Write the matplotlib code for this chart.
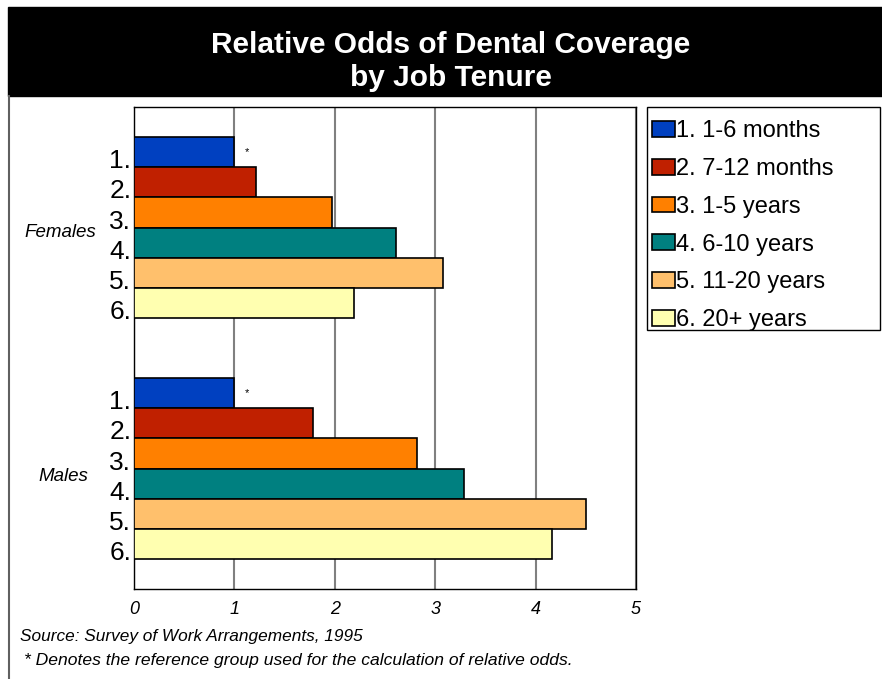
import matplotlib.pyplot as plt
import matplotlib.transforms as mtransforms
from matplotlib.patches import Rectangle
from matplotlib.lines import Line2D

plt.rcParams['font.family'] = ['Liberation Sans', 'DejaVu Sans']

# datos
grupos = ["Females", "Males"]
categorias = ["1. 1-6 months", "2. 7-12 months", "3. 1-5 years",
              "4. 6-10 years", "5. 11-20 years", "6. 20+ years"]
etiquetas_y = ["1.", "2.", "3.", "4.", "5.", "6."]
mujeres = [1.00, 1.22, 1.97, 2.61, 3.08, 2.19]
hombres = [1.00, 1.78, 2.82, 3.29, 4.50, 4.16]
colores = ["#0040C0", "#C02000", "#FF8000", "#008080", "#FFC06C", "#FFFFB0"]
xticks = [0, 1, 2, 3, 4, 5]

W, H = 882, 679
fig = plt.figure(figsize=(W / 100, H / 100), dpi=100)

# banda negra del titulo y borde izquierdo
fig.patches.append(Rectangle((8 / W, 1 - 96 / H), 874 / W, 89 / H,
                             transform=fig.transFigure, color="black", zorder=0))
fig.lines.append(Line2D([9 / W, 9 / W], [0, 1 - 96 / H], transform=fig.transFigure,
                        color="#606060", lw=1.5))
fig.text(451 / W, 1 - 45 / H, "Relative Odds of Dental Coverage", color="white",
         fontsize=21.5, fontweight="bold", ha="center", va="center")
fig.text(451 / W, 1 - 78 / H, "by Job Tenure", color="white",
         fontsize=21.5, fontweight="bold", ha="center", va="center")

ax = fig.add_axes([134 / W, 1 - 589 / H, (636 - 134) / W, (589 - 107) / H])

offsets = [1, 9]  # posicion de inicio de cada grupo
yt, ytl = [], []
for g, vals, off in zip(grupos, [mujeres, hombres], offsets):
    for i, v in enumerate(vals):
        y = off + i + 0.5
        ax.barh(y, v, height=1.0, color=colores[i], edgecolor="black",
                linewidth=1.2, zorder=3,
                label=categorias[i] if off == offsets[0] else None)
        yt.append(y + 0.22)
        ytl.append(etiquetas_y[i])
    # asterisco del grupo de referencia
    ax.text(vals[0] + 0.1, off + 0.5, "*", fontsize=8, ha="left", va="center", zorder=4)

ax.set_ylim(16, 0)
ax.set_xlim(0, 5)
ax.set_yticks(yt)
ax.set_yticklabels(ytl, fontsize=19)
ax.set_xticks(xticks)
ax.set_xticklabels([str(t) for t in xticks], fontsize=13, style="italic")
ax.tick_params(axis="both", length=0)
ax.tick_params(axis="y", pad=2)
ax.tick_params(axis="x", pad=9)
ax.grid(axis="x", color="#808080", lw=1.5, zorder=1)
ax.set_axisbelow(True)
for s in ax.spines.values():
    s.set_color("black")
    s.set_linewidth(1.0)

# etiquetas de grupo
trans = mtransforms.blended_transform_factory(fig.transFigure, ax.transData)
ax.text(60 / W, offsets[0] + 3 + 0.15, grupos[0], transform=trans, fontsize=13.5,
        style="italic", ha="center", va="center")
ax.text(63 / W, offsets[1] + 3 + 0.25, grupos[1], transform=trans, fontsize=13.5,
        style="italic", ha="center", va="center")

# leyenda sin marco + marco dibujado aparte
fig.patches.append(Rectangle((647 / W, 1 - 330 / H), 233 / W, 223 / H,
                             transform=fig.transFigure, facecolor="white",
                             edgecolor="black", lw=1.0, zorder=-1))
leg = ax.legend(loc="upper left", bbox_to_anchor=(647 / W, 1 - 330 / H, 233 / W, 215 / H),
                bbox_transform=fig.transFigure, mode="expand", fontsize=17,
                frameon=False,
                handlelength=0.95, handleheight=0.65, handletextpad=0.05,
                labelspacing=0.67, borderpad=0.22, borderaxespad=0)

fig.text(20 / W, 1 - 636 / H, "Source: Survey of Work Arrangements, 1995",
         fontsize=12.4, style="italic", ha="left", va="center")
fig.text(24 / W, 1 - 661 / H,
         "* Denotes the reference group used for the calculation of relative odds.",
         fontsize=12.6, style="italic", ha="left", va="center")

fig.savefig("out.png", dpi=100)
